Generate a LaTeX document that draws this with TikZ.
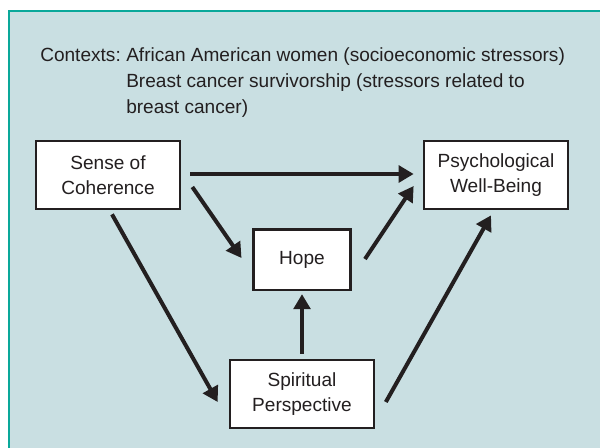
\documentclass[tikz,border=0pt]{standalone}
\usepackage{fontspec}
\setmainfont{Liberation Sans}
\usetikzlibrary{arrows.meta,calc}

\definecolor{panelfill}{HTML}{C9DFE2}
\definecolor{panelline}{HTML}{0AA89A}
\definecolor{inktext}{HTML}{231F20}

\begin{document}
\begin{tikzpicture}[
	x=0.75pt, y=-0.75pt,
	every node/.style = {text=inktext, font=\fontsize{14.3}{18.75}\selectfont},
	concept/.style = {rectangle, draw=inktext, fill=white, line width=2pt, align=center, inner sep=0pt},
	wide/.style = {minimum width=108pt, minimum height=51pt},
	small/.style = {minimum width=73pt, minimum height=45.5pt},
	link/.style = {-{Triangle[length=11.25pt,width=12.5pt]}, draw=inktext, line width=3pt},
]
\useasboundingbox (0,0) rectangle (600,447);
\clip (0,0) rectangle (600,447);
\draw[panelline, fill=panelfill, line width=1.6pt] (9,11) rectangle (620,470);

% contexts
\node[anchor=base west, inner sep=0pt] (ctxlabel) at (40,61) {Contexts:};
\node[anchor=base west, inner sep=0pt] (ctxline1) at (126,61) {African American women (socioeconomic stressors)};
\node[anchor=base west, inner sep=0pt] (ctxline2) at (126,87) {Breast cancer survivorship (stressors related to};
\node[anchor=base west, inner sep=0pt] (ctxline3) at (126,113) {breast cancer)};

% model
\node[concept, wide] (soc) at (108,175) {Sense of\\Coherence};
\node[concept, wide] (pwb) at (496,175) {Psychological\\Well-Being};
\node[concept, small] (hope) at (302,259.5) {Hope};
\node[concept, wide] (spirit) at (302,394) {Spiritual\\Perspective};

\draw[link] ($(soc.east)+(9,-1)$) -- ($(pwb.west)+(-9,-1)$);
\draw[link] ($(soc.east)+(11,12)$) -- ($(hope.west)+(-10.5,-1.5)$);
\draw[link] ($(hope.east)+(13,-0.5)$) -- ($(pwb.west)+(-9,11)$);
\draw[link] ($(soc.south)+(4,4)$) -- ($(spirit.west)+(-11,8)$);
\draw[link] ($(spirit.north)+(0,-5)$) -- ($(hope.south)+(0,3)$);
\draw[link] ($(spirit.east)+(10.5,8)$) -- ($(pwb.south)+(-5,5)$);
\end{tikzpicture}
\end{document}
